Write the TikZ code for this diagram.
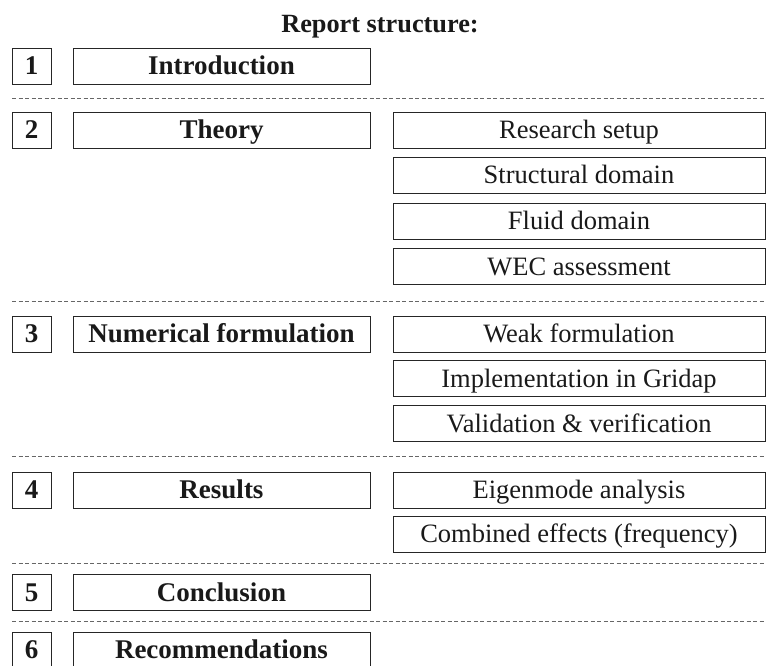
\documentclass[tikz,border=0pt]{standalone}
\usepackage{fontspec}
\setmainfont{Liberation Serif}
\begin{document}
\begin{tikzpicture}[x=1pt,y=-1pt,
  box/.style={draw=black!85,line width=0.9pt,rectangle,inner sep=0pt,minimum height=36pt,
    text height=21.7pt,text depth=4pt,text=black!90,font=\fontsize{26.5}{30}\selectfont},
  numbox/.style={box,minimum width=39pt,font=\fontsize{27}{30}\selectfont\bfseries},
  mainbox/.style={box,minimum width=297pt,font=\fontsize{27}{30}\selectfont\bfseries},
  subbox/.style={box,minimum width=372pt},
  sep/.style={draw=black!60,line width=0.7pt,dash pattern=on 4pt off 2.5pt}]
\useasboundingbox (0,0) rectangle (766,666);
\node[anchor=base,font=\fontsize{26.3}{30}\selectfont\bfseries,text=black!90] (title) at (380,33) {Report structure:};
% row 1
\node[numbox] (n1) at (31.5,66) {1};
\node[mainbox] (m1) at (221.5,66) {Introduction};
\draw[sep] (12,98) -- (766,98);
% row 2
\node[numbox] (n2) at (31.5,130) {2};
\node[mainbox] (m2) at (221.5,130) {Theory};
\node[subbox] (s21) at (579,130) {Research setup};
\node[subbox] (s22) at (579,175) {Structural domain};
\node[subbox] (s23) at (579,221) {Fluid domain};
\node[subbox] (s24) at (579,266.5) {WEC assessment};
\draw[sep] (12,301) -- (766,301);
% row 3
\node[numbox] (n3) at (31.5,334) {3};
\node[mainbox] (m3) at (221.5,334) {Numerical formulation};
\node[subbox] (s31) at (579,334) {Weak formulation};
\node[subbox] (s32) at (579,378.5) {Implementation in Gridap};
\node[subbox] (s33) at (579,423.5) {Validation \& verification};
\draw[sep] (12,456.5) -- (766,456.5);
% row 4
\node[numbox] (n4) at (31.5,490) {4};
\node[mainbox] (m4) at (221.5,490) {Results};
\node[subbox] (s41) at (579,490) {Eigenmode analysis};
\node[subbox] (s42) at (579,534) {Combined effects (frequency)};
\draw[sep] (12,563) -- (766,563);
% row 5
\node[numbox] (n5) at (31.5,592.5) {5};
\node[mainbox] (m5) at (221.5,592.5) {Conclusion};
\draw[sep] (12,621) -- (766,621);
% row 6
\node[numbox] (n6) at (31.5,650) {6};
\node[mainbox] (m6) at (221.5,650) {Recommendations};
\end{tikzpicture}
\end{document}
